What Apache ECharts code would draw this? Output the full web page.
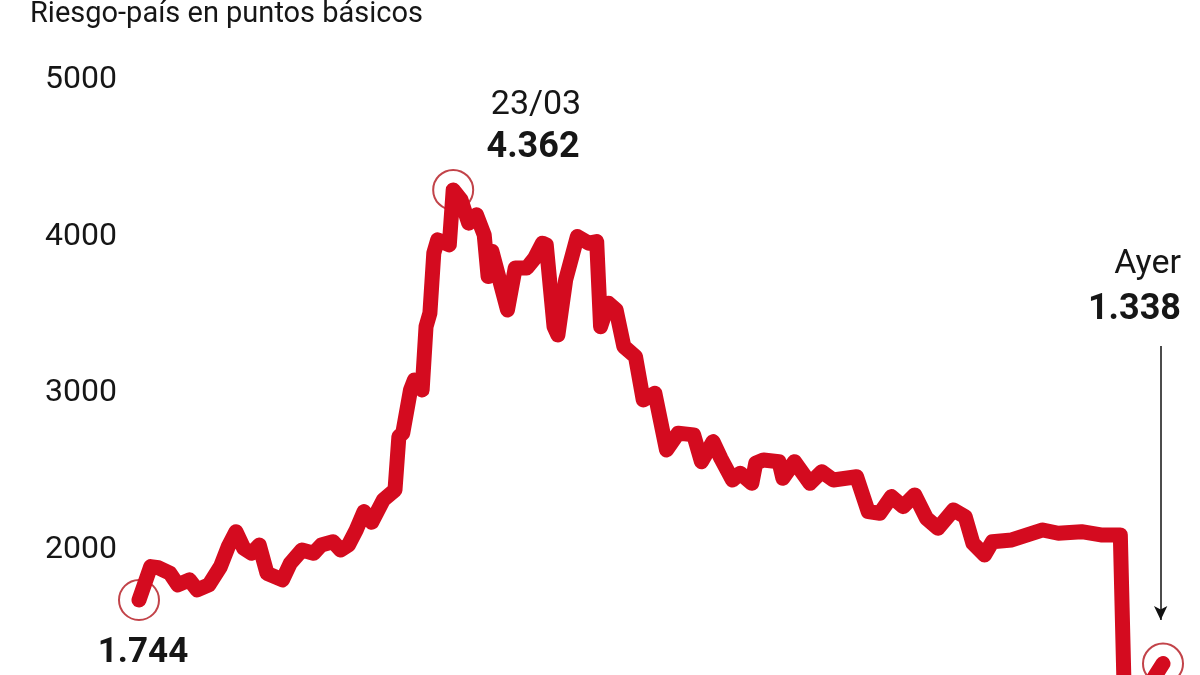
<!DOCTYPE html>
<html>
<head>
<meta charset="utf-8">
<script src="https://cdn.jsdelivr.net/npm/echarts@6/dist/echarts.min.js"></script>
<style>
  html, body { margin: 0; padding: 0; background: #ffffff; }
  #chart { width: 1200px; height: 675px; }
</style>
</head>
<body>
<div id="chart"></div>
<script>
// Day offsets (calendar days from the first observation) and country-risk values (basis points)
const days = [0,3,5,8,10,13,15,18,21,23,25,27,29,31,33,35,37,39,42,45,47,50,52,54,56,58,60,63,66,67,68,70,71,73,74,75,76,77,80,81,83,85,87,89,90,91,95,97,100,102,104,105,107,108,110,113,116,118,119,121,123,125,128,130,133,136,139,143,145,148,150,153,155,158,159,161,165,166,169,173,176,179,185,188,191,194,197,200,203,206,210,213,215,218,220,225,229,233,237,243,248,253,254,258,262,264];
const values = [1744,1957,1950,1914,1840,1872,1808,1840,1957,2084,2180,2074,2042,2095,1914,1893,1872,1978,2063,2042,2095,2116,2063,2095,2191,2308,2240,2383,2446,2787,2809,3085,3149,3085,3489,3575,3958,4043,4011,4362,4300,4150,4203,4075,3809,3970,3596,3864,3864,3926,4022,4011,3489,3436,3788,4064,4022,4032,3489,3639,3596,3362,3298,3021,3064,2702,2809,2798,2627,2755,2649,2510,2553,2489,2617,2638,2627,2521,2627,2489,2563,2510,2531,2308,2298,2404,2340,2415,2266,2202,2319,2276,2106,2031,2116,2127,2159,2191,2170,2180,2159,2159,1150,1100,1260,1338];
const yTicks = [2000, 3000, 4000, 5000];
const title = 'Riesgo-país en puntos básicos';
const peakDate = '23/03';
const lastLabel = 'Ayer';

const fmt = v => String(v).replace(/\B(?=(\d{3})+(?!\d))/g, '.');
const peakIdx = values.indexOf(Math.max(...values));
const lastIdx = values.length - 1;
const highlighted = [0, peakIdx, lastIdx].map(i => [days[i], values[i]]);

const chart = echarts.init(document.getElementById('chart'));
const txt = '#161616';
const FONT = 'Roboto, "Noto Sans", sans-serif';

chart.setOption({
  backgroundColor: '#ffffff',
  animation: false,
  grid: { left: 139, top: 90, width: 1024, bottom: 0 },
  xAxis: {
    type: 'value', min: 0, max: days[lastIdx],
    show: false
  },
  yAxis: {
    type: 'value', min: 1265, max: 5000,
    axisLine: { show: false }, axisTick: { show: false }, splitLine: { show: false },
    axisLabel: {
      margin: 22, fontSize: 32, fontFamily: FONT, color: txt,
      verticalAlign: 'bottom', lineHeight: 20,
      customValues: yTicks,
      formatter: v => String(v)
    }
  },
  series: [
    {
      type: 'scatter',
      z: 1,
      clip: false,
      data: highlighted,
      symbol: 'circle',
      symbolSize: 40,
      itemStyle: { color: 'rgba(0,0,0,0)', borderColor: '#b3141c', borderWidth: 2 },
      silent: true
    },
    {
      type: 'line',
      z: 2,
      clip: false,
      data: days.map((d, i) => [d, values[i]]),
      symbol: 'none',
      lineStyle: { color: '#d40b1f', width: 15, cap: 'round', join: 'round' },
      markLine: {
        silent: true,
        symbol: ['none', 'arrow'],
        symbolSize: [10, 14],
        label: { show: false },
        lineStyle: { color: '#111', width: 1.5, type: 'solid' },
        data: [[{ coord: [days[lastIdx] - 0.6, 3366] }, { coord: [days[lastIdx] - 0.6, 1616] }]]
      }
    }
  ],
  graphic: [
    { type: 'text', left: 30, top: 0, style: { text: title, font: '29px ' + FONT, fill: txt, x: 0, y: 0 } },
    { type: 'text', x: 536, y: 105, style: { text: peakDate, font: '34px ' + FONT, fill: txt, align: 'center', verticalAlign: 'middle' } },
    { type: 'text', x: 533, y: 148, style: { text: fmt(values[peakIdx]), font: 'bold 36px ' + FONT, fill: txt, align: 'center', verticalAlign: 'middle' } },
    { type: 'text', x: 143, y: 653, style: { text: fmt(values[0]), font: 'bold 35px ' + FONT, fill: txt, align: 'center', verticalAlign: 'middle' } },
    { type: 'text', x: 1181, y: 264, style: { text: lastLabel, font: '34px ' + FONT, fill: txt, align: 'right', verticalAlign: 'middle' } },
    { type: 'text', x: 1181, y: 310, style: { text: fmt(values[lastIdx]), font: 'bold 36px ' + FONT, fill: txt, align: 'right', verticalAlign: 'middle' } }
  ]
});
</script>
</body>
</html>
